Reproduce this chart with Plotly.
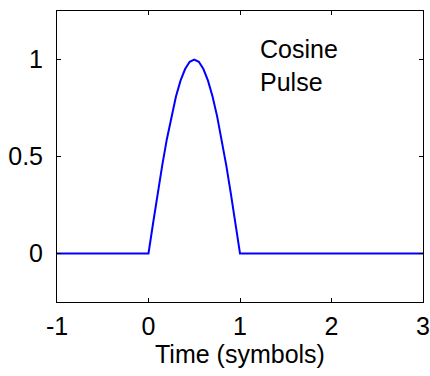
import plotly.graph_objects as go

# Data
time_before = [-1.0, 0.0]
pulse_before = [0.0, 0.0]
time_pulse = [0.0, 0.05, 0.10, 0.15, 0.20, 0.25, 0.30, 0.35, 0.40, 0.45, 0.50,
              0.55, 0.60, 0.65, 0.70, 0.75, 0.80, 0.85, 0.90, 0.95, 1.0]
pulse_vals = [0.0, 0.156, 0.309, 0.454, 0.588, 0.707, 0.809, 0.891, 0.951, 0.988, 1.0,
              0.988, 0.951, 0.891, 0.809, 0.707, 0.588, 0.454, 0.309, 0.156, 0.0]
time_after = [1.0, 3.0]
pulse_after = [0.0, 0.0]

x_all = time_before + time_pulse[1:] + time_after[1:]
y_all = pulse_before + pulse_vals[1:] + pulse_after[1:]

x_ticks = [-1, 0, 1, 2, 3]
y_ticks = [0, 0.5, 1]

FONT = "Liberation Sans, Arial, sans-serif"
FS = 25

fig = go.Figure()
fig.add_trace(go.Scatter(x=x_all, y=y_all, mode="lines",
                         line=dict(color="#0000ff", width=2), showlegend=False,
                         cliponaxis=False))

fig.add_annotation(x=1.20, y=0.97, text="Cosine<br>Pulse", showarrow=False,
                   xanchor="left", yanchor="middle", align="left",
                   font=dict(family=FONT, size=FS, color="#000"))

axis_common = dict(showgrid=False, zeroline=False, showline=True, linecolor="#000",
                   linewidth=1, mirror="ticks", ticks="inside", ticklen=4,
                   tickcolor="#000", automargin=False,
                   tickfont=dict(family=FONT, size=FS, color="#000"))

fig.update_layout(
    width=430, height=376,
    margin=dict(l=57, r=7, t=11, b=74, autoexpand=False),
    paper_bgcolor="white", plot_bgcolor="white",
    xaxis=dict(range=[-1, 3], tickvals=x_ticks, ticktext=[str(v) for v in x_ticks],
               ticklabelstandoff=2,
               title=dict(text="Time (symbols)", standoff=2,
                          font=dict(family=FONT, size=FS, color="#000")),
               **axis_common),
    yaxis=dict(range=[-0.25, 1.25], tickvals=y_ticks, ticktext=["0", "0.5", "1"],
               ticklabelstandoff=8,
               **axis_common),
)

fig.write_html("out.html")
